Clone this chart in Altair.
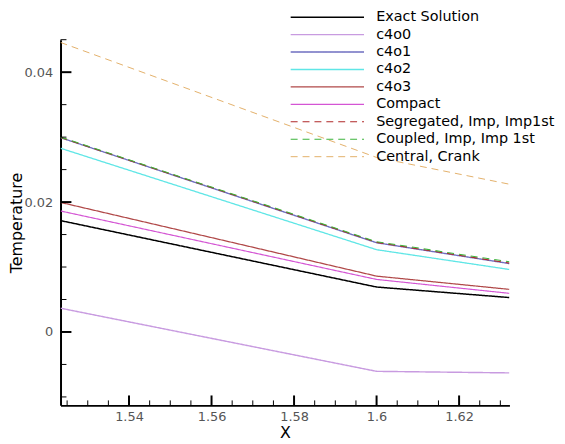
import altair as alt
import pandas as pd

# ---- data ----
x_vals = [1.5234, 1.6, 1.6322]
exact = [0.01715, 0.00692, 0.0053]
c4o0 = [0.00366, -0.00606, -0.0063]
c4o1 = [0.02992, 0.01374, 0.01053]
c4o2 = [0.02829, 0.01267, 0.00962]
c4o3 = [0.01995, 0.0086, 0.00656]
compact = [0.01863, 0.00809, 0.00595]
segregated = [0.02995, 0.0138, 0.0106]
coupled = [0.0300, 0.0139, 0.0108]
central = [0.04458, 0.02687, 0.02275]

series_names = ["Exact Solution", "c4o0", "c4o1", "c4o2", "c4o3", "Compact",
                "Segregated, Imp, Imp1st", "Coupled, Imp, Imp 1st", "Central, Crank"]
series_values = [exact, c4o0, c4o1, c4o2, c4o3, compact, segregated, coupled, central]
series_colors = ["#000000", "#C89BE0", "#6E6EC0", "#5FE6E6", "#B04848", "#D455D4",
                 "#B02828", "#3CB43C", "#E3B06A"]
series_dash = [[1, 0]] * 6 + [[7, 5]] * 3
series_width = [1.5, 1, 1, 1, 1, 1, 1, 1, 1]

x_major = [1.54, 1.56, 1.58, 1.6, 1.62]
x_minor = [1.525, 1.53, 1.535, 1.545, 1.55, 1.555, 1.565, 1.57, 1.575,
           1.585, 1.59, 1.595, 1.605, 1.61, 1.615, 1.625, 1.63]
y_major = [0, 0.02, 0.04]
y_minor = [-0.01, -0.005, 0.005, 0.01, 0.015, 0.025, 0.03, 0.035, 0.045]

rows = []
for name, vals in zip(series_names, series_values):
    for xv, yv in zip(x_vals, vals):
        rows.append({"series": name, "x": xv, "y": yv})
df = pd.DataFrame(rows)

xt_major = pd.DataFrame({"x": x_major})
xt_minor = pd.DataFrame({"x": x_minor})
yt_major = pd.DataFrame({"y": y_major})
yt_minor = pd.DataFrame({"y": y_minor})

FONT = "DejaVu Sans"
W, H = 453, 369
xscale = alt.Scale(domain=[1.5234, 1.6322], nice=False, zero=False)
yscale = alt.Scale(domain=[-0.0113, 0.045], nice=False, zero=False)

xaxis = alt.Axis(orient="bottom", values=x_major, format="~g", ticks=False, grid=False,
                 domainColor="black", domainWidth=2, labelColor="#555555",
                 labelFontSize=13, labelFont=FONT, labelPadding=5,
                 title="X", titleFont=FONT, titleFontSize=16, titleFontWeight="normal",
                 titleColor="black", titleX=226.5, titleY=27, titleBaseline="middle")
yaxis = alt.Axis(orient="left", values=y_major, format="~g", ticks=False, grid=False,
                 domainColor="black", domainWidth=2, labelColor="#555555",
                 labelFontSize=13, labelFont=FONT, labelPadding=8,
                 title="Temperature", titleFont=FONT, titleFontSize=16,
                 titleFontWeight="normal", titleColor="black", titleAngle=270,
                 titleX=-44, titleY=184.5, titleAlign="center", titleBaseline="middle")

leg = alt.Legend(title=None, orient="none", legendX=230, legendY=-30,
                 symbolType="M-1,0H13.8", symbolSize=100, symbolStrokeWidth=1.5,
                 labelOffset=74, labelFontSize=14.5, labelFont=FONT, labelColor="black",
                 rowPadding=2.6, labelLimit=300)

lines = alt.Chart(df).mark_line(clip=True).encode(
    x=alt.X("x:Q", scale=xscale, axis=xaxis),
    y=alt.Y("y:Q", scale=yscale, axis=yaxis),
    color=alt.Color("series:N", scale=alt.Scale(domain=series_names, range=series_colors),
                    legend=leg, sort=series_names),
    strokeDash=alt.StrokeDash("series:N", scale=alt.Scale(domain=series_names, range=series_dash),
                              legend=leg, sort=series_names),
    strokeWidth=alt.StrokeWidth("series:N", scale=alt.Scale(domain=series_names, range=series_width),
                                legend=None),
)


def xticks(data, size, width):
    return alt.Chart(data).mark_rule(color="black", strokeWidth=width).encode(
        x=alt.X("x:Q", scale=xscale, axis=xaxis),
        y=alt.value(H),
        y2=alt.value(H - size),
    )


def yticks(data, size, width):
    return alt.Chart(data).mark_rule(color="black", strokeWidth=width).encode(
        y=alt.Y("y:Q", scale=yscale, axis=yaxis),
        x=alt.value(0),
        x2=alt.value(size),
    )


chart = alt.layer(
    lines,
    xticks(xt_major, 10, 2),
    xticks(xt_minor, 5, 1),
    yticks(yt_major, 11, 2),
    yticks(yt_minor, 6, 1),
).properties(
    width=W, height=H,
    padding={"left": 53, "top": 30, "right": 48, "bottom": 38},
    autosize=alt.AutoSizeParams(type="none"),
).configure_view(stroke=None)

chart.save("out.html", embed_options={"renderer": "svg", "actions": False})
